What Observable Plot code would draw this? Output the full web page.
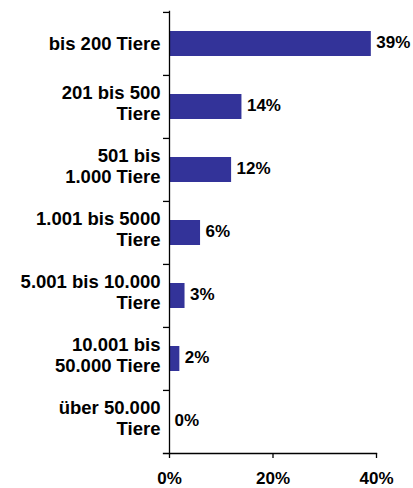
<!DOCTYPE html>
<html>
<head>
<meta charset="utf-8">
<script src="https://cdn.jsdelivr.net/npm/d3@7"></script>
<script src="https://cdn.jsdelivr.net/npm/@observablehq/plot@0.6"></script>
<style>
  html, body { margin: 0; padding: 0; background: #fff; }
  #chart { width: 413px; height: 488px; }
</style>
</head>
<body>
<div id="chart"></div>
<script>
const categories = [
  "bis 200 Tiere",
  "201 bis 500\nTiere",
  "501 bis\n1.000 Tiere",
  "1.001 bis 5000\nTiere",
  "5.001 bis 10.000\nTiere",
  "10.001 bis\n50.000 Tiere",
  "über 50.000\nTiere"
];
const values = [39, 14, 12, 6, 3, 2, 0];
const xTicks = [0, 20, 40];

const data = categories.map((c, i) => ({cat: c, value: values[i]}));

const W = 413, H = 488, mt = 11, mb = 35, ml = 169, mr = 37;
const band = (H - mt - mb) / categories.length;
const font = "'Liberation Sans', Arial, Helvetica, sans-serif";

const chart = Plot.plot({
  width: W,
  height: H,
  marginTop: mt,
  marginBottom: mb,
  marginLeft: ml,
  marginRight: mr,
  style: {fontFamily: font, fontWeight: "bold", fontSize: "17px", color: "#000", background: "#fff"},
  x: {domain: [0, 40], label: null},
  y: {domain: categories, padding: 0, label: null},
  marks: [
    Plot.barX(data, {x: "value", y: "cat", fill: "#333399", insetTop: 19, insetBottom: 19}),
    Plot.text(data, {x: "value", y: "cat", text: d => d.value + "%", textAnchor: "start", dx: 5, dy: -1, fontSize: 17, fontWeight: "bold", fill: "#000"}),
    Plot.text(data.filter(d => !d.cat.includes("\n")), {y: "cat", text: "cat", frameAnchor: "left", textAnchor: "end", dx: -9, fontSize: 18.5, fontWeight: "bold", fill: "#000"}),
    Plot.text(data.filter(d => d.cat.includes("\n")), {y: "cat", text: "cat", frameAnchor: "left", textAnchor: "end", dx: -9, dy: -4, lineHeight: 1.14, fontSize: 18.5, fontWeight: "bold", fill: "#000"}),
    Plot.axisY({tickSize: 6, tickFormat: () => "", dy: -band / 2, strokeWidth: 1.3}),
    Plot.axisX({ticks: xTicks, tickSize: 5, tickPadding: 13, tickFormat: d => d + "%", strokeWidth: 1.3, fontSize: 17, fontWeight: "bold"}),
    Plot.frame({anchor: "left", strokeWidth: 1.3}),
    Plot.frame({anchor: "bottom", insetLeft: -6, strokeWidth: 1.3})
  ]
});
document.getElementById("chart").appendChild(chart);
</script>
</body>
</html>
